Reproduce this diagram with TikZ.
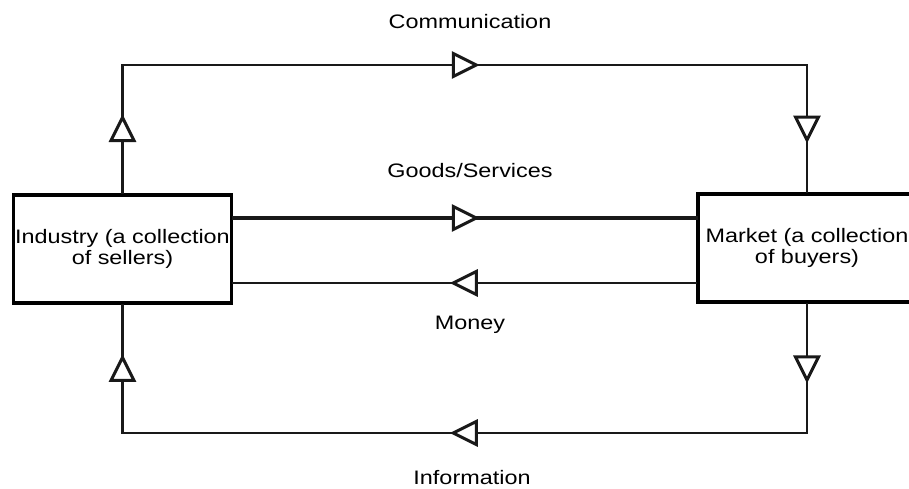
\documentclass[tikz,border=0pt]{standalone}
\usepackage{fontspec}
\setmainfont{Liberation Sans}[FakeStretch=1.2]
\usetikzlibrary{positioning,decorations.markings}

\begin{document}
\begin{tikzpicture}[
    x=1pt, y=-1pt,
    font=\fontsize{19.5}{21.5}\selectfont,
    party/.style={
      rectangle,
      draw=black,
      fill=white,
      line width=3.8pt,
      text width=218pt,
      align=center,
      minimum height=108pt,
      inner sep=0pt
    },
    flow/.style={
      draw=black!90,
      line width=2.4pt,
      line cap=rect,
      postaction={decorate},
      decoration={markings,
        mark=at position 0.5 with {
          \draw[fill=white, line width=3pt, line join=miter]
            (-11.5pt,-11.5pt) -- (11.5pt,0pt) -- (-11.5pt,11.5pt) -- cycle;
        }}
    }
  ]
  \useasboundingbox (0,0) rectangle (909,489);
  \clip (0,0) rectangle (909,489);

  % the two parties
  \node[party] (industry) at (122.5,249) {Industry (a collection\\of sellers)};
  \node[party] (market) at (807,248) {Market (a collection\\of buyers)};

  % corners of the outer loops
  \coordinate (commL) at (122.5,65);
  \coordinate (commR) at (807,65);
  \coordinate (infoL) at (122.5,433);
  \coordinate (infoR) at (807,433);

  % communication loop
  \draw[flow] (industry.north) -- (commL);
  \draw[flow, line width=1.8pt] (commL) -- (commR);
  \draw[flow] (commR) -- (market.north);

  % information loop
  \draw[flow] (market.south) -- (infoR);
  \draw[flow] (infoR) -- (infoL);
  \draw[flow] (infoL) -- (industry.south);

  % goods and money
  \draw[flow, line width=3.2pt] ([yshift=31pt]industry.east) -- ([yshift=31pt]industry.east -| market.west);
  \draw[flow] ([yshift=-35pt]market.west) -- ([yshift=-35pt]market.west -| industry.east);

  % labels
  \node (comm) at (470,22) {Communication};
  \node (goods) at (470,171) {Goods/Services};
  \node (money) at (470,325) {Money};
  \node (info) at (472,478) {Information};
\end{tikzpicture}
\end{document}
